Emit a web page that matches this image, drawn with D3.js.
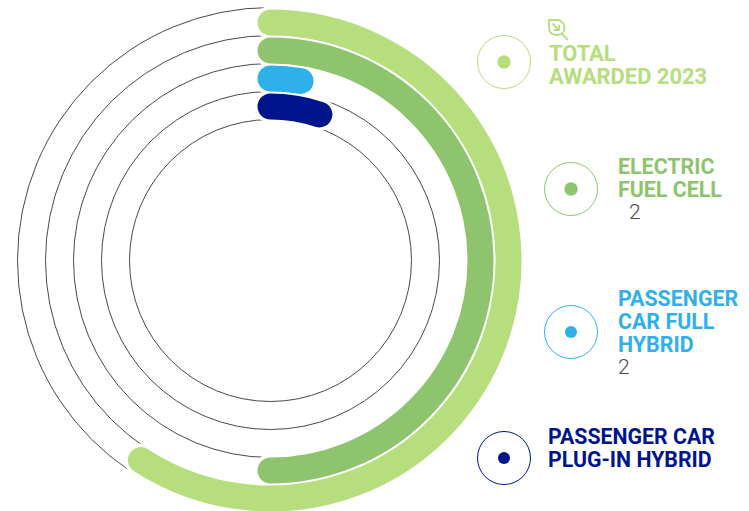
<!DOCTYPE html>
<html><head><meta charset="utf-8">
<script src="https://cdn.jsdelivr.net/npm/d3@7/dist/d3.min.js"></script>
<style>html,body{margin:0;padding:0;background:#fff}svg{display:block}text{font-family:Roboto,sans-serif;font-weight:700}</style>
</head><body><svg id="c" width="749" height="511"></svg>
<script>
const categories=["TOTAL AWARDED 2023","ELECTRIC FUEL CELL","PASSENGER CAR FULL HYBRID","PASSENGER CAR PLUG-IN HYBRID"];
const values=[21.3,18,0.95,1.85];
const colors=["#b6de7d","#8fc46f","#2fb0e9","#00148c"];
const labelLines=[["TOTAL","AWARDED 2023"],["ELECTRIC","FUEL CELL"],["PASSENGER","CAR FULL","HYBRID"],["PASSENGER CAR","PLUG-IN HYBRID"]];
const subLabels=[null,"2","2",null];
const domainMax=36;

const svg=d3.select("#c");
const cx=270.5,cy=260.5;
const angle=d3.scaleLinear().domain([0,domainMax]).range([0,2*Math.PI]);
const ring=d3.scaleBand().domain(categories).range([252,140]);
const bandW=26;
const g=svg.append("g").attr("transform",`translate(${cx},${cy})`);
g.selectAll("circle.track").data(categories.concat(["inner"])).join("circle")
 .attr("r",(d,i)=>253-28*i).attr("fill","none").attr("stroke","#333").attr("stroke-width",0.9);
const arcOf=d=>{
 const p=d3.path(),r=ring(d.c)+ring.bandwidth()/2;
 p.arc(0,0,r,-Math.PI/2,angle(d.v)-Math.PI/2,false);
 return p.toString();
};
const rows=categories.map((c,i)=>({c,v:values[i],col:colors[i]}));
g.selectAll("path.halo").data(rows).join("path").attr("class","halo").attr("d",arcOf)
 .attr("fill","none").attr("stroke","#fff").attr("stroke-width",bandW+7).attr("stroke-linecap","round");
g.selectAll("path.bar").data(rows).join("path").attr("class","bar").attr("d",arcOf)
 .attr("fill","none").attr("stroke",d=>d.col).attr("stroke-width",bandW).attr("stroke-linecap","round");

const legendX=[504,571,571,504],legendY=[62,189,332,458];
const textX=[549,618,618,548],textY=[60.5,174,306,444];
const textSize=[21.9,21.4,21.4,21.3];
categories.forEach((c,i)=>{
 const col=colors[i];
 svg.append("circle").attr("cx",legendX[i]).attr("cy",legendY[i]).attr("r",26.5).attr("fill","#fff").attr("stroke",col).attr("stroke-width",1);
 svg.append("circle").attr("cx",legendX[i]).attr("cy",legendY[i]).attr("r",i>=2?6:6.7).attr("fill",col);
 labelLines[i].forEach((t,j)=>svg.append("text").attr("x",textX[i]).attr("y",textY[i]+j*23).attr("font-size",textSize[i]).attr("fill",col).text(t));
 if(subLabels[i]){
  const n=labelLines[i].length;
  svg.append("text").attr("x",i==1?629:618).attr("y",textY[i]+n*23-1).attr("font-size",21).style("font-weight",300).attr("fill","#4a4a4a").text(subLabels[i]);
 }
});
const leaf=svg.append("g").attr("transform","translate(548,19)").attr("fill","none").attr("stroke",colors[0]).attr("stroke-width",1.8).attr("stroke-linecap","round").attr("stroke-linejoin","round");
leaf.append("path").attr("d","M1 1H9C14 1 16.5 5 16.5 9C16.5 13.5 13 16 9 16C4 16 1 13 1 8Z");
leaf.append("path").attr("d","M14 15L19.5 20.5");
leaf.append("path").attr("d","M5 5L11 11M11 6.5V11H6.5");
</script></body></html>
